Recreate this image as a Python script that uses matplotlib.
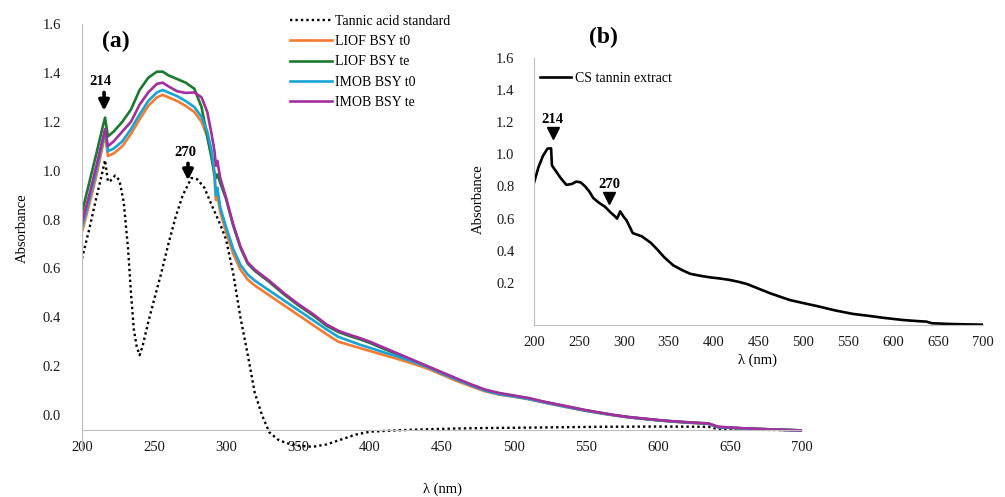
import matplotlib
matplotlib.use("Agg")
import matplotlib.pyplot as plt

plt.rcParams['font.family'] = ['Liberation Serif', 'DejaVu Serif']

# ---------------- Panel (a) data ----------------
wl_a = [200, 205, 210, 214, 216, 218, 222, 228, 234, 240, 246, 252, 256, 260, 266, 272, 278, 283, 287,
        290, 292, 293, 294, 296, 300, 305, 310, 315, 320, 330, 340, 350, 360, 370, 378, 385, 393, 400,
        410, 420, 430, 440, 450, 460, 470, 480, 490, 500, 510, 520, 530, 540, 550, 560, 570, 580, 590,
        600, 610, 620, 635, 642, 660, 680, 700]

liof_t0 = [0.75, 0.86, 0.98, 1.09, 1.15, 1.06, 1.07, 1.10, 1.15, 1.21, 1.265, 1.30, 1.31, 1.30, 1.285,
           1.265, 1.24, 1.20, 1.14, 1.06, 0.97, 0.88, 0.90, 0.83, 0.75, 0.66, 0.595, 0.555, 0.53, 0.49,
           0.45, 0.41, 0.37, 0.33, 0.30, 0.288, 0.274, 0.262, 0.245, 0.228, 0.21, 0.19, 0.165, 0.14,
           0.118, 0.097, 0.083, 0.075, 0.065, 0.052, 0.04, 0.028, 0.017, 0.007, -0.002, -0.01, -0.016,
           -0.022, -0.027, -0.031, -0.036, -0.05, -0.055, -0.059, -0.063]

liof_te = [0.83, 0.95, 1.07, 1.17, 1.217, 1.14, 1.16, 1.20, 1.25, 1.33, 1.38, 1.405, 1.405, 1.39, 1.375,
           1.36, 1.335, 1.26, 1.14, 1.05, 0.99, 0.97, 0.985, 0.95, 0.885, 0.775, 0.685, 0.62, 0.59, 0.545,
           0.495, 0.45, 0.41, 0.365, 0.34, 0.325, 0.31, 0.295, 0.27, 0.246, 0.222, 0.198, 0.173, 0.148,
           0.124, 0.102, 0.088, 0.078, 0.068, 0.055, 0.043, 0.031, 0.019, 0.009, -0.001, -0.009, -0.015,
           -0.021, -0.026, -0.030, -0.035, -0.049, -0.055, -0.059, -0.063]

imob_t0 = [0.77, 0.88, 1.00, 1.11, 1.165, 1.08, 1.09, 1.12, 1.17, 1.23, 1.285, 1.32, 1.33, 1.32, 1.305,
           1.285, 1.26, 1.22, 1.16, 1.08, 0.99, 0.90, 0.93, 0.85, 0.77, 0.68, 0.615, 0.575, 0.55, 0.51,
           0.47, 0.43, 0.39, 0.35, 0.32, 0.305, 0.288, 0.275, 0.256, 0.238, 0.218, 0.196, 0.17, 0.145,
           0.122, 0.10, 0.085, 0.076, 0.066, 0.053, 0.041, 0.029, 0.018, 0.008, -0.001, -0.009, -0.015,
           -0.021, -0.026, -0.030, -0.035, -0.05, -0.055, -0.059, -0.063]

imob_te = [0.79, 0.90, 1.02, 1.12, 1.17, 1.10, 1.12, 1.16, 1.20, 1.27, 1.32, 1.355, 1.36, 1.345, 1.325,
           1.318, 1.32, 1.30, 1.24, 1.15, 1.08, 1.02, 1.04, 0.97, 0.89, 0.78, 0.69, 0.625, 0.595, 0.55,
           0.50, 0.455, 0.415, 0.37, 0.345, 0.33, 0.315, 0.30, 0.275, 0.25, 0.225, 0.20, 0.175, 0.15,
           0.126, 0.104, 0.09, 0.08, 0.07, 0.056, 0.044, 0.032, 0.02, 0.01, 0.0, -0.008, -0.014,
           -0.02, -0.025, -0.029, -0.034, -0.048, -0.054, -0.059, -0.063]

wl_tannic = [200, 205, 210, 214, 216, 218, 220, 223, 226, 229, 232, 234, 236, 238, 240, 242, 246, 250,
             255, 260, 265, 270, 276, 280, 285, 290, 293, 296, 300, 305, 310, 315, 320, 325, 330, 336,
             342, 350, 360, 370, 380, 390, 400, 420, 440, 460, 480, 500, 530, 560, 600, 635, 642, 660, 700]
tannic = [0.64, 0.76, 0.89, 0.99, 1.043, 0.955, 0.96, 0.98, 0.96, 0.87, 0.68, 0.50, 0.35, 0.28, 0.245,
          0.28, 0.38, 0.47, 0.58, 0.70, 0.81, 0.90, 0.97, 0.965, 0.93, 0.86, 0.82, 0.78, 0.72, 0.58, 0.40,
          0.25, 0.09, 0.0, -0.07, -0.10, -0.115, -0.125, -0.13, -0.12, -0.10, -0.08, -0.068, -0.062,
          -0.058, -0.055, -0.053, -0.052, -0.05, -0.048, -0.047, -0.048, -0.058, -0.06, -0.062]

# ---------------- Panel (b) data ----------------
wl_b = [200, 205, 210, 215, 219, 220, 225, 230, 236, 242, 247, 252, 257, 262, 266, 272, 279, 285, 290,
        292.5, 296, 300, 303, 310, 320, 330, 337, 345, 355, 365, 374, 385, 396, 407, 418, 428, 437, 450,
        463, 475, 485, 500, 518, 535, 555, 574, 590, 611, 625, 637, 643, 660, 680, 700]
cs_extract = [0.823, 0.92, 0.99, 1.035, 1.037, 0.93, 0.89, 0.85, 0.81, 0.815, 0.83, 0.825, 0.80, 0.765,
              0.728, 0.70, 0.674, 0.64, 0.615, 0.60, 0.645, 0.61, 0.59, 0.51, 0.49, 0.45, 0.41, 0.36, 0.31,
              0.28, 0.257, 0.245, 0.235, 0.228, 0.219, 0.207, 0.194, 0.165, 0.136, 0.113, 0.094, 0.075,
              0.053, 0.03, 0.008, -0.005, -0.017, -0.03, -0.036, -0.04, -0.05, -0.054, -0.057, -0.059]

x_ticks = [200, 250, 300, 350, 400, 450, 500, 550, 600, 650, 700]
y_ticks_a = [0.0, 0.2, 0.4, 0.6, 0.8, 1.0, 1.2, 1.4, 1.6]
y_ticks_b = [0.2, 0.4, 0.6, 0.8, 1.0, 1.2, 1.4, 1.6]

W, H = 1005, 497
fig = plt.figure(figsize=(W / 100, H / 100), dpi=100)

def fx(px):
    return px / W

def fy(py):
    return 1 - py / H

AXIS_GRAY = '#BFBFBF'
X_CROSS = -0.061
ARROW = dict(arrowstyle='-|>', color='black', lw=2.6, mutation_scale=15, shrinkA=0, shrinkB=0)

# ---------------- Panel (a) ----------------
axa = fig.add_axes([fx(82), fy(450.5), fx(802) - fx(82), fy(24) - fy(450.5)])
axa.set_xlim(200, 700)
axa.set_ylim(-0.145, 1.6)
axa.set_facecolor('none')

lw = 1.9
axa.plot(wl_tannic, tannic, color='black', lw=1.7, ls=(0, (1, 1.3)), label='Tannic acid standard')
axa.plot(wl_a, liof_t0, color='#F47B30', lw=lw, label='LIOF BSY t0')
axa.plot(wl_a, liof_te, color='#1B7A30', lw=lw, label='LIOF BSY te')
axa.plot(wl_a, imob_t0, color='#16A3D6', lw=lw, label='IMOB BSY t0')
axa.plot(wl_a, imob_te, color='#A22F9C', lw=lw, label='IMOB BSY te')

for s in ['top', 'right']:
    axa.spines[s].set_visible(False)
axa.spines['left'].set_color(AXIS_GRAY)
axa.spines['bottom'].set_color(AXIS_GRAY)
axa.spines['bottom'].set_position(('data', X_CROSS))
axa.set_xticks(x_ticks)
axa.set_xticklabels([str(v) for v in x_ticks])
axa.set_yticks(y_ticks_a)
axa.set_yticklabels([f'{v:.1f}' for v in y_ticks_a])
axa.tick_params(axis='both', length=0, labelsize=10.5, colors='#1a1a1a')
axa.tick_params(axis='y', pad=15)
axa.tick_params(axis='x', pad=8)

axa.legend(loc='upper left', bbox_to_anchor=(fx(290), fy(15)), bbox_transform=fig.transFigure,
           frameon=False, fontsize=10, handlelength=3.0, handletextpad=0.25,
           labelspacing=0.52, borderpad=0, borderaxespad=0)

# annotations panel (a)
axa.text(213, 1.366, '214', fontsize=10.5, fontweight='bold', ha='center', va='center')
axa.annotate('', xy=(215.3, 1.245), xytext=(215.3, 1.32), arrowprops=ARROW)
axa.text(272, 1.076, '270', fontsize=10.5, fontweight='bold', ha='center', va='center')
axa.annotate('', xy=(273.6, 0.96), xytext=(273.6, 1.03), arrowprops=ARROW)

fig.text(fx(116), fy(41), '(a)', fontsize=17, fontweight='bold', ha='center', va='center')
fig.text(fx(22), fy(228), 'Absorbance', fontsize=10.5, rotation=90, ha='center', va='center')
fig.text(fx(442), fy(489), 'λ (nm)', fontsize=10.5, ha='center', va='center')

# ---------------- Panel (b) ----------------
axb = fig.add_axes([fx(534), fy(325), fx(983) - fx(534), fy(57.7) - fy(325)])
axb.set_xlim(200, 700)
axb.set_ylim(X_CROSS, 1.6)
axb.set_facecolor('none')
axb.plot(wl_b, cs_extract, color='black', lw=1.9, label='CS tannin extract')
for s in ['top', 'right']:
    axb.spines[s].set_visible(False)
axb.spines['left'].set_color(AXIS_GRAY)
axb.spines['bottom'].set_color(AXIS_GRAY)
axb.set_xticks(x_ticks)
axb.set_xticklabels([str(v) for v in x_ticks])
axb.set_yticks(y_ticks_b)
axb.set_yticklabels([f'{v:.1f}' for v in y_ticks_b])
axb.tick_params(axis='both', length=0, labelsize=10.5, colors='#1a1a1a')
axb.tick_params(axis='y', pad=14)
axb.tick_params(axis='x', pad=8)

axb.legend(loc='upper left', bbox_to_anchor=(fx(540), fy(72)), bbox_transform=fig.transFigure,
           frameon=False, fontsize=10, handlelength=2.2, handletextpad=0.3,
           borderpad=0, borderaxespad=0)

axb.text(221, 1.213, '214', fontsize=10.5, fontweight='bold', ha='center', va='center')
axb.plot([221], [1.13], marker='v', color='black', markersize=8, ls='none')
axb.text(283.5, 0.81, '270', fontsize=10.5, fontweight='bold', ha='center', va='center')
axb.plot([283.5], [0.728], marker='v', color='black', markersize=8, ls='none')

fig.text(fx(603), fy(37), '(b)', fontsize=17, fontweight='bold', ha='center', va='center')
fig.text(fx(478), fy(199), 'Absorbance', fontsize=10.5, rotation=90, ha='center', va='center')
fig.text(fx(757), fy(360), 'λ (nm)', fontsize=10.5, ha='center', va='center')

fig.savefig('out.png', dpi=100)
